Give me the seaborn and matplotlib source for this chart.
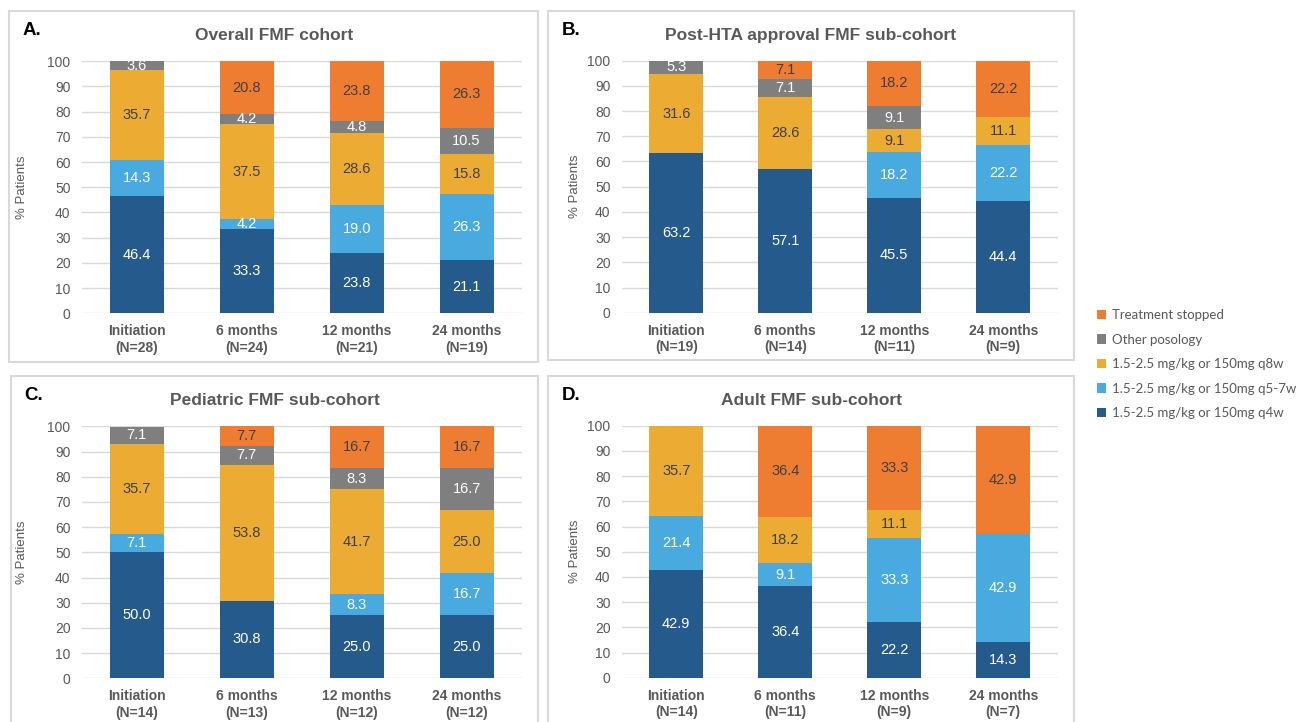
import numpy as np
import matplotlib
matplotlib.use("Agg")
import matplotlib.pyplot as plt
from matplotlib.patches import Rectangle, Patch
import seaborn as sns

# ---- data ----
time_points = ["Initiation", "6 months", "12 months", "24 months"]
series_names = ["1.5-2.5 mg/kg or 150mg q4w", "1.5-2.5 mg/kg or 150mg q5-7w",
                "1.5-2.5 mg/kg or 150mg q8w", "Other posology", "Treatment stopped"]

overall_n = [28, 24, 21, 19]
overall_q4w = [46.4, 33.3, 23.8, 21.1]
overall_q5_7w = [14.3, 4.2, 19.0, 26.3]
overall_q8w = [35.7, 37.5, 28.6, 15.8]
overall_other = [3.6, 4.2, 4.8, 10.5]
overall_stopped = [0, 20.8, 23.8, 26.3]

posthta_n = [19, 14, 11, 9]
posthta_q4w = [63.2, 57.1, 45.5, 44.4]
posthta_q5_7w = [0, 0, 18.2, 22.2]
posthta_q8w = [31.6, 28.6, 9.1, 11.1]
posthta_other = [5.3, 7.1, 9.1, 0]
posthta_stopped = [0, 7.1, 18.2, 22.2]

pediatric_n = [14, 13, 12, 12]
pediatric_q4w = [50.0, 30.8, 25.0, 25.0]
pediatric_q5_7w = [7.1, 0, 8.3, 16.7]
pediatric_q8w = [35.7, 53.8, 41.7, 25.0]
pediatric_other = [7.1, 7.7, 8.3, 16.7]
pediatric_stopped = [0, 7.7, 16.7, 16.7]

adult_n = [14, 11, 9, 7]
adult_q4w = [42.9, 36.4, 22.2, 14.3]
adult_q5_7w = [21.4, 9.1, 33.3, 42.9]
adult_q8w = [35.7, 18.2, 11.1, 0]
adult_other = [0, 0, 0, 0]
adult_stopped = [0, 36.4, 33.3, 42.9]

colors = ["#245A8C", "#48AADF", "#ECAC34", "#7F7F7F", "#EE7D32"]
text_colors = ["white", "white", "#404040", "white", "#404040"]

sns.set_style("white")
plt.rcParams['font.family'] = ['Liberation Sans', 'DejaVu Sans']

W, H = 1301, 722
fig = plt.figure(figsize=(W / 100, H / 100), dpi=100)


def px_rect(left, top, right, bottom):
    return [left / W, 1 - bottom / H, (right - left) / W, (bottom - top) / H]


panels = [
    ("A.", "Overall FMF cohort", overall_n,
     [overall_q4w, overall_q5_7w, overall_q8w, overall_other, overall_stopped],
     (81.7, 61.3, 521.6, 313.3), (9.3, 11, 538, 361.7), -0.123),
    ("B.", "Post-HTA approval FMF sub-cohort", posthta_n,
     [posthta_q4w, posthta_q5_7w, posthta_q8w, posthta_other, posthta_stopped],
     (621.7, 60.7, 1057.7, 312.7), (548, 11, 1074, 360.3), -0.093),
    ("C.", "Pediatric FMF sub-cohort", pediatric_n,
     [pediatric_q4w, pediatric_q5_7w, pediatric_q8w, pediatric_other, pediatric_stopped],
     (81.7, 426.3, 521.6, 678.3), (11, 375.7, 538, 724), -0.123),
    ("D.", "Adult FMF sub-cohort", adult_n,
     [adult_q4w, adult_q5_7w, adult_q8w, adult_other, adult_stopped],
     (621.7, 425.7, 1057.7, 677.7), (548.3, 375.7, 1074, 724), -0.093),
]

for letter, title, ns, series, ax_px, box_px, ylab_x in panels:
    # panel frame
    bx0, by0, bx1, by1 = box_px
    fig.add_artist(Rectangle((bx0 / W, 1 - by1 / H), (bx1 - bx0) / W, (by1 - by0) / H,
                             transform=fig.transFigure, fill=False,
                             edgecolor="#d9d9d9", linewidth=1.5))
    fig.text((bx0 + 13.5) / W, 1 - (by0 + 24) / H, letter, fontsize=13.5,
             fontweight='bold', color='black', va='baseline', ha='left')
    fig.text((bx0 + bx1) / 2 / W, 1 - (by0 + 29) / H, title, fontsize=12.5,
             fontweight='bold', color='#595959', va='baseline', ha='center')

    ax = fig.add_axes(px_rect(*ax_px))
    labels = [f"{t}\n(N={n})" for t, n in zip(time_points, ns)]
    vals = np.array(series, dtype=float)
    cum = np.cumsum(vals, axis=0)

    # stacked bars: draw cumulative totals from the top layer down
    for k in reversed(range(len(series_names))):
        sns.barplot(x=labels, y=cum[k], order=labels, color=colors[k],
                    saturation=1, width=0.49, errorbar=None, linewidth=0, ax=ax)

    for k in range(len(series_names)):
        for i in range(len(labels)):
            v = vals[k, i]
            if v > 0:
                ax.text(i, cum[k, i] - v / 2, f"{v:.1f}", ha='center', va='center',
                        fontsize=10.5, color=text_colors[k])

    ax.set_ylim(0, 100)
    ax.set_xlim(-0.5, 3.5)
    ax.set_yticks(range(0, 101, 10))
    ax.yaxis.grid(True, color='#d9d9d9', linewidth=1)
    ax.set_axisbelow(True)
    for s in ax.spines.values():
        s.set_visible(False)
    ax.tick_params(axis='both', length=0, labelsize=10, colors='#595959', pad=8)
    for lbl in ax.get_xticklabels():
        lbl.set_fontweight('bold')
        lbl.set_fontsize(10)
    ax.set_xlabel('')
    ax.set_ylabel('% Patients', fontsize=9.5, color='#595959')
    ax.yaxis.set_label_coords(ylab_x, 0.5)

handles = [Patch(facecolor=colors[k], edgecolor='none') for k in reversed(range(5))]
fig.legend(handles, list(reversed(series_names)), loc='upper left',
           bbox_to_anchor=(1097 / W, 1 - 309 / H), frameon=False,
           prop={'family': ['Lato', 'DejaVu Sans'], 'size': 9.5},
           labelcolor='#595959', handlelength=0.7, handleheight=0.7,
           handletextpad=0.4, labelspacing=0.95, borderaxespad=0, borderpad=0)

fig.savefig("out.png", dpi=100)
